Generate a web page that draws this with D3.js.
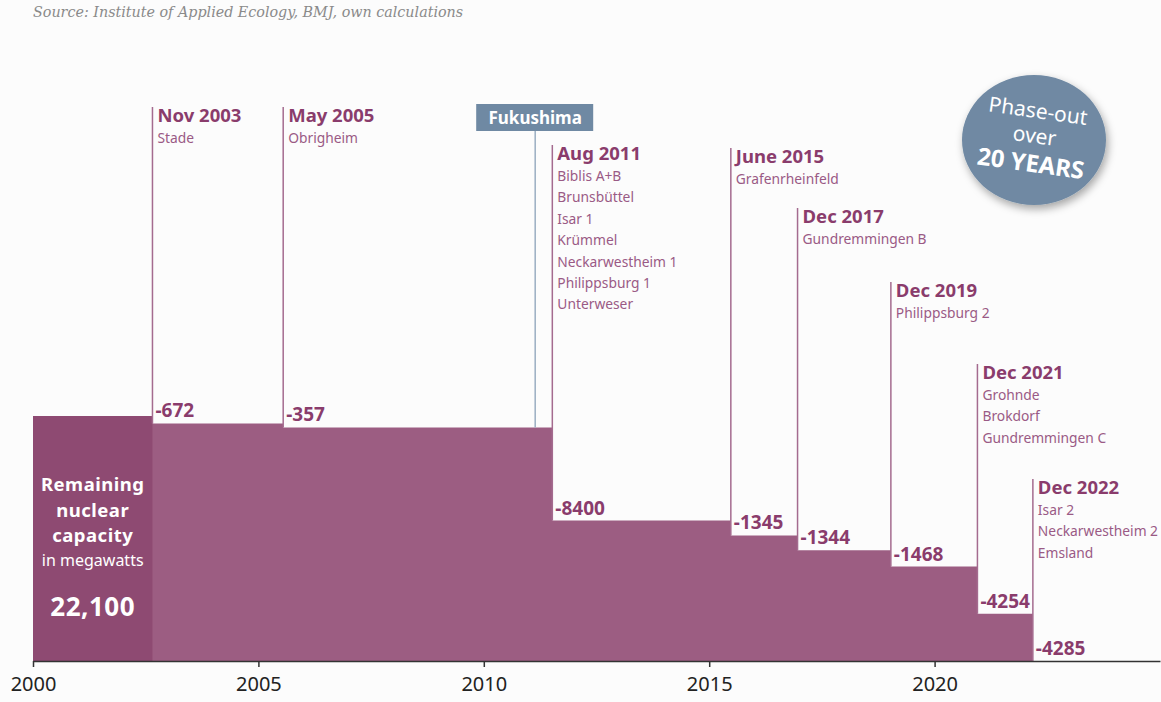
<!DOCTYPE html>
<html>
<head>
<meta charset="utf-8">
<script src="https://cdn.jsdelivr.net/npm/d3@7"></script>
<style>
  body { margin: 0; background: #fcfcfc; }
  svg { display: block; font-family: "Noto Sans", sans-serif; }
</style>
</head>
<body>
<svg width="1161" height="702"></svg>
<script>
// data
const startYear = 2000;
const startCapacity = 22100;
const shutdownDates = [2002.65, 2005.55, 2011.52, 2015.48, 2016.96, 2019.03, 2020.95, 2022.18];
const shutdownLabels = ["Nov 2003", "May 2005", "Aug 2011", "June 2015", "Dec 2017", "Dec 2019", "Dec 2021", "Dec 2022"];
const plantNames = [
  ["Stade"],
  ["Obrigheim"],
  ["Biblis A+B", "Brunsbüttel", "Isar 1", "Krümmel", "Neckarwestheim 1", "Philippsburg 1", "Unterweser"],
  ["Grafenrheinfeld"],
  ["Gundremmingen B"],
  ["Philippsburg 2"],
  ["Grohnde", "Brokdorf", "Gundremmingen C"],
  ["Isar 2", "Neckarwestheim 2", "Emsland"]
];
const reductions = [-672, -357, -8400, -1345, -1344, -1468, -4254, -4285];
const fukushimaDate = 2011.14;
const xTicks = [2000, 2005, 2010, 2015, 2020];

// layout: baseline of each date label
const annotBaseline = [122, 122, 160, 163, 223, 297, 379, 494];

const purple = "#8a3c6c";
const purpleLight = "#9a5a85";
const barColor = "#9c5d82";
const barDark = "#8e4a72";
const lineColor = "#a46b8f";
const blueGrey = "#6f89a3";

const svg = d3.select("svg");

const x = d3.scaleLinear().domain([2000, 2025]).range([33, 1160]);
const y = d3.scaleLinear().domain([0, startCapacity]).range([661, 416]);

let cap = startCapacity;
const levels = reductions.map(r => (cap = Math.max(0, cap + r)));
const steps = [{date: startYear, v: startCapacity}]
  .concat(shutdownDates.map((d, i) => ({date: d, v: levels[i]})));

// source
svg.append("text")
  .attr("x", 33).attr("y", 17)
  .attr("font-family", "DejaVu Serif, serif")
  .attr("font-style", "italic")
  .attr("font-size", 14.3)
  .attr("fill", "#8a8a8a")
  .text("Source: Institute of Applied Ecology, BMJ, own calculations");

// step area
const area = d3.area()
  .x(d => x(d.date))
  .y0(y(0))
  .y1(d => y(d.v))
  .curve(d3.curveStepAfter);

svg.append("path")
  .datum(steps)
  .attr("d", area)
  .attr("fill", barColor);

svg.append("rect")
  .attr("x", x(startYear))
  .attr("y", y(startCapacity))
  .attr("width", x(shutdownDates[0]) - x(startYear))
  .attr("height", y(0) - y(startCapacity))
  .attr("fill", barDark);

// fukushima marker
const fx = x(fukushimaDate);
const levelAtF = steps.filter(s => s.date <= fukushimaDate).pop().v;
svg.append("line")
  .attr("x1", fx).attr("x2", fx)
  .attr("y1", 131).attr("y2", y(levelAtF))
  .attr("stroke", "#9aaec2").attr("stroke-width", 1.5);
svg.append("rect")
  .attr("x", fx - 59).attr("y", 104)
  .attr("width", 117).attr("height", 27)
  .attr("fill", blueGrey);
svg.append("text")
  .attr("x", fx).attr("y", 124)
  .attr("text-anchor", "middle")
  .attr("font-size", 17).attr("font-weight", "bold")
  .attr("fill", "#fff")
  .text("Fukushima");

// shutdown annotations
const ann = svg.append("g").selectAll("g")
  .data(shutdownDates.map((d, i) => ({date: d, label: shutdownLabels[i], plants: plantNames[i], red: reductions[i], level: levels[i], base: annotBaseline[i]})))
  .join("g");

ann.append("line")
  .attr("x1", d => x(d.date)).attr("x2", d => x(d.date))
  .attr("y1", d => d.base - 15)
  .attr("y2", d => y(d.level))
  .attr("stroke", lineColor).attr("stroke-width", 1.5);

ann.append("text")
  .attr("x", d => x(d.date) + 5)
  .attr("y", d => d.base)
  .attr("font-size", 18.5).attr("font-weight", "bold")
  .attr("fill", purple)
  .text(d => d.label);

ann.each(function(d) {
  d3.select(this).selectAll("text.plant")
    .data(d.plants)
    .join("text")
    .attr("class", "plant")
    .attr("x", x(d.date) + 5)
    .attr("y", (p, j) => d.base + 21 + j * 21.4)
    .attr("font-size", 13.8)
    .attr("fill", purpleLight)
    .text(p => p);
});

ann.append("text")
  .attr("x", d => x(d.date) + 3)
  .attr("y", d => y(d.level) - 6)
  .attr("font-size", 19).attr("font-weight", "bold")
  .attr("fill", purple)
  .text(d => d.red);

// left block caption
const cx = (x(startYear) + x(shutdownDates[0])) / 2;
const caption = [
  {t: "Remaining", y: 491, s: 18.5, w: "bold"},
  {t: "nuclear", y: 516.5, s: 18.5, w: "bold"},
  {t: "capacity", y: 542, s: 18.5, w: "bold"},
  {t: "in megawatts", y: 566, s: 16, w: "normal"},
  {t: d3.format(",")(startCapacity), y: 616, s: 26, w: "bold"}
];
svg.append("g").selectAll("text")
  .data(caption)
  .join("text")
  .attr("x", cx).attr("y", d => d.y)
  .attr("text-anchor", "middle")
  .attr("font-size", d => d.s)
  .attr("font-weight", d => d.w)
  .attr("letter-spacing", d => d.w === "bold" ? 0.5 : 0)
  .attr("fill", "#fff")
  .text(d => d.t);

// axis
const axis = svg.append("g")
  .attr("transform", `translate(0,${y(0)})`)
  .call(d3.axisBottom(x).tickValues(xTicks).tickFormat(d3.format("d")).tickSize(6).tickSizeOuter(0));
axis.select(".domain").attr("stroke", "#333").attr("stroke-width", 1.5);
axis.selectAll(".tick line").attr("stroke", "#333").attr("stroke-width", 1.5);
axis.selectAll(".tick text")
  .attr("y", 24).attr("dy", "0.32em")
  .attr("font-family", "Noto Sans, sans-serif")
  .attr("font-size", 20).attr("fill", "#222");

// phase-out bubble
const defs = svg.append("defs");
const f = defs.append("filter").attr("id", "shadow")
  .attr("x", "-30%").attr("y", "-30%").attr("width", "160%").attr("height", "160%");
f.append("feDropShadow").attr("dx", 2).attr("dy", 4).attr("stdDeviation", 4)
  .attr("flood-color", "#000").attr("flood-opacity", 0.35);

const bubble = svg.append("g").attr("transform", "translate(1034,140)");
bubble.append("ellipse")
  .attr("rx", 72).attr("ry", 65)
  .attr("fill", blueGrey)
  .attr("filter", "url(#shadow)");
const bt = bubble.append("g").attr("transform", "rotate(8)");
[{t: "Phase-out", y: -22, s: 21, w: "normal"},
 {t: "over", y: 3, s: 21, w: "normal"},
 {t: "20 YEARS", y: 32, s: 24, w: "bold"}].forEach(d => {
  bt.append("text")
    .attr("x", 0).attr("y", d.y)
    .attr("text-anchor", "middle")
    .attr("font-size", d.s).attr("font-weight", d.w)
    .attr("fill", "#fff")
    .text(d.t);
});
</script>
</body>
</html>
